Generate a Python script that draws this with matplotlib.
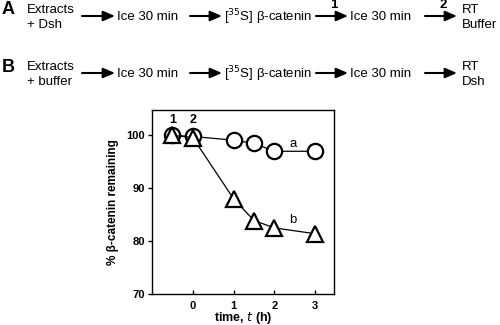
import matplotlib
matplotlib.use("Agg")
import matplotlib.pyplot as plt

plt.rcParams['font.family'] = ['Liberation Sans', 'DejaVu Sans']

# Data
time_a = [-0.5, 0, 1, 1.5, 2, 3]
pct_a = [100.0, 99.8, 99.1, 98.5, 97.0, 97.0]
time_b = [-0.5, 0, 1, 1.5, 2, 3]
pct_b = [100.0, 99.6, 88.0, 83.9, 82.5, 81.4]
xticks = [0, 1, 2, 3]
yticks = [70, 80, 90, 100]
point_labels = ["1", "2"]
point_label_x = [-0.5, 0]

fig = plt.figure(figsize=(5, 3.25), dpi=100)

def fx(px):
    return px / 500.0

def fy(py):
    return 1 - py / 325.0

FS = 9.5

def flow(row_y, letter, first, last, nums):
    fig.text(fx(2), fy(row_y - 6), letter, fontsize=13, fontweight='bold', ha='left', va='center')
    fig.text(fx(27), fy(row_y - 6), first[0], fontsize=FS, ha='left', va='center')
    fig.text(fx(27), fy(row_y + 9), first[1], fontsize=FS, ha='left', va='center')
    mids = ["Ice 30 min", r"[$^{35}$S] β-catenin", "Ice 30 min"]
    midx = [117, 224, 350]
    for t, x in zip(mids, midx):
        fig.text(fx(x), fy(row_y + 1), t, fontsize=FS, ha='left', va='center')
    arrows = [(82, 115), (190, 222), (316, 348), (425, 457)]
    for i, (x0, x1) in enumerate(arrows):
        fig.add_artist(matplotlib.patches.FancyArrowPatch(
            (fx(x0), fy(row_y)), (fx(x1), fy(row_y)),
            transform=fig.transFigure, arrowstyle='-|>,head_length=0.7,head_width=0.3',
            mutation_scale=10, lw=1.5, color='black', shrinkA=0, shrinkB=0))
        if nums[i]:
            fig.text(fx((x0 + x1) / 2 + 2), fy(row_y - 11), nums[i], fontsize=9.5,
                     fontweight='bold', ha='center', va='center')
    fig.text(fx(462), fy(row_y - 6), last[0], fontsize=FS, ha='left', va='center')
    fig.text(fx(462), fy(row_y + 9), last[1], fontsize=FS, ha='left', va='center')

flow(16, "A", ("Extracts", "+ Dsh"), ("RT", "Buffer"), ["", "", "1", "2"])
flow(73, "B", ("Extracts", "+ buffer"), ("RT", "Dsh"), ["", "", "", ""])

ax = fig.add_axes([0.304, 0.0954, 0.364, 0.566])
ax.plot(time_a, pct_a, color='black', lw=0.9, marker='o', markersize=11,
        markerfacecolor='white', markeredgecolor='black', markeredgewidth=1.6, zorder=3)
ax.plot(time_b, pct_b, color='black', lw=0.9, marker='^', markersize=11.5,
        markerfacecolor='white', markeredgecolor='black', markeredgewidth=1.6, zorder=4)
ax.set_xlim(-1.0, 3.46)
ax.set_ylim(70, 104.8)
ax.set_xticks(xticks)
ax.set_yticks(yticks)
ax.tick_params(axis='x', direction='in', length=3, width=1, labelsize=8, pad=5)
ax.tick_params(axis='y', direction='out', length=3, width=1, labelsize=8, pad=2)
for lab in ax.get_xticklabels() + ax.get_yticklabels():
    lab.set_fontweight('bold')
for s in ax.spines.values():
    s.set_linewidth(1.0)
for t, x in zip(point_labels, point_label_x):
    ax.text(x, 103.0, t, fontsize=9, fontweight='bold', ha='center', va='center')
ax.text(2.45, 98.3, "a", fontsize=9.5, ha='center', va='center')
ax.text(2.45, 84.0, "b", fontsize=9.5, ha='center', va='center')
ax.set_ylabel("% β-catenin remaining", fontsize=8.5, fontweight='bold', labelpad=5)
ax.set_xlabel(r"time, $\it{t}$ (h)", fontsize=9, fontweight='bold', labelpad=-1)

fig.savefig("out.png", dpi=100)
